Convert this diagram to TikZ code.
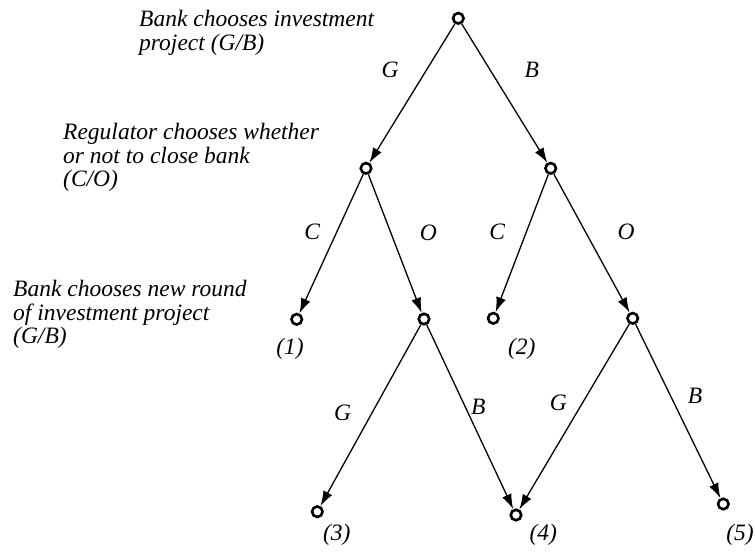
\documentclass[tikz,border=0pt]{standalone}
\usepackage{fontspec}
\setmainfont{Liberation Serif}
\usetikzlibrary{arrows.meta}
\begin{document}
\begin{tikzpicture}[x=1pt,y=-1pt,
  st/.style={circle,draw,line width=2.6pt,minimum size=10.5pt,inner sep=0pt},
  arr/.style={line width=1.3pt,-{Latex[length=15pt,width=10pt]}},
  lab/.style={font=\fontsize{23.5}{23.5}\selectfont\itshape,inner sep=0pt},
  note/.style={font=\fontsize{23.5}{23.5}\selectfont\itshape,inner sep=0pt,align=left,anchor=north west}]
\useasboundingbox (0,0) rectangle (755,556);
% notes
\node[note] (t1) at (139,10) {Bank chooses investment\\project (G/B)};
\node[note] (t2) at (63,123) {Regulator chooses whether\\or not to close bank\\(C/O)};
\node[note] (t3) at (13,280) {Bank chooses new round\\of investment project\\(G/B)};
% states
\node[st] (r) at (458.3,18.3) {};
\node[st] (a) at (366,168.3) {};
\node[st] (b) at (550.7,168.3) {};
\node[st] (n1) at (296.7,319.3) {};
\node[st] (c) at (424,319) {};
\node[st] (n2) at (493.3,318.3) {};
\node[st] (d) at (632.7,318.3) {};
\node[st] (n3) at (317.3,511.7) {};
\node[st] (n4) at (516,515) {};
\node[st] (n5) at (723.3,504) {};
% edges
\draw[arr] (r) -- (a);
\draw[arr] (r) -- (b);
\draw[arr] (a) -- (n1);
\draw[arr] (a) -- (c);
\draw[arr] (b) -- (n2);
\draw[arr] (b) -- (d);
\draw[arr] (c) -- (n3);
\draw[arr] (c) -- (n4);
\draw[arr] (d) -- (n4);
\draw[arr] (d) -- (n5);
% edge labels
\node[lab] (l1) at (390,70) {G};
\node[lab] (l2) at (531.7,70) {B};
\node[lab] (l3) at (312.3,231.7) {C};
\node[lab] (l4) at (428.3,233.3) {O};
\node[lab] (l5) at (497.3,231.7) {C};
\node[lab] (l6) at (626,231.7) {O};
\node[lab] (l7) at (342.7,413.3) {G};
\node[lab] (l8) at (478.3,407.3) {B};
\node[lab] (l9) at (558.3,402.7) {G};
\node[lab] (l10) at (695,396) {B};
% outcome labels
\node[lab] (o1) at (290,349.3) {(1)};
\node[lab] (o2) at (521.7,349.3) {(2)};
\node[lab] (o3) at (336.7,535) {(3)};
\node[lab] (o4) at (543.3,535) {(4)};
\node[lab] (o5) at (740,535) {(5)};
\end{tikzpicture}
\end{document}
